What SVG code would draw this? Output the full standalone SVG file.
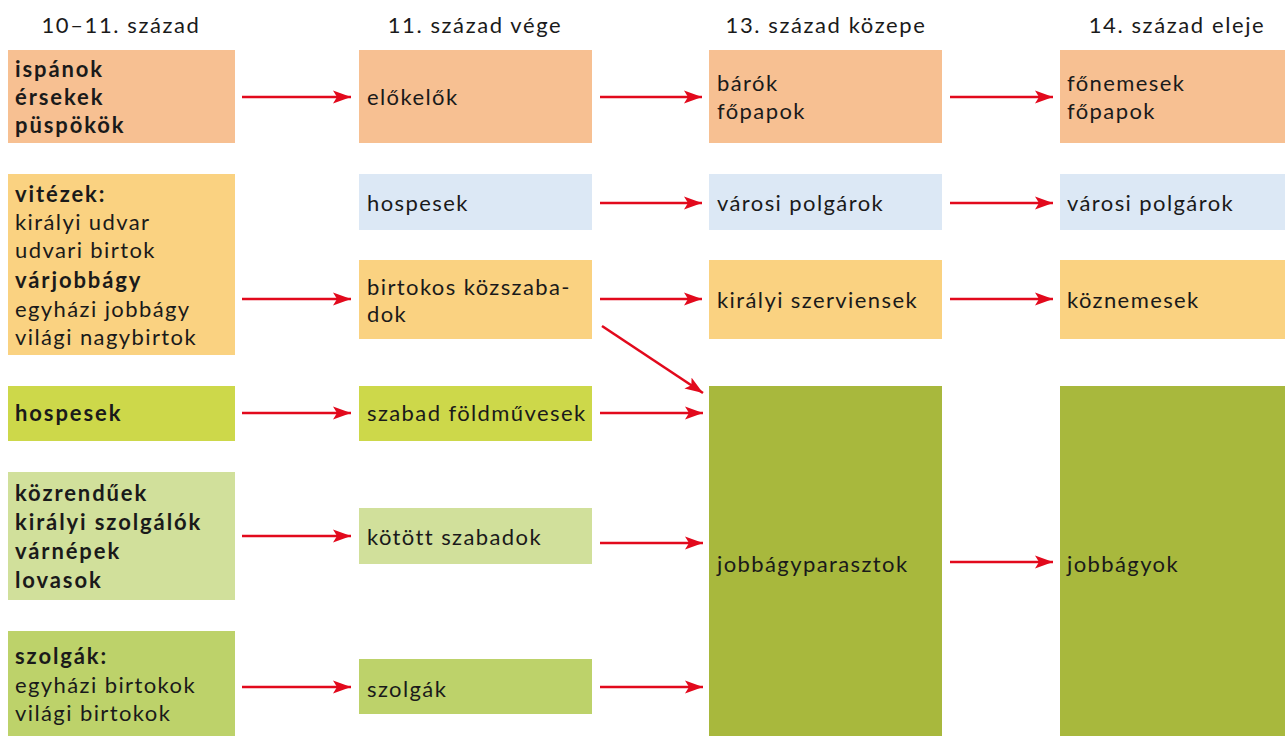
<svg xmlns="http://www.w3.org/2000/svg" width="1285" height="736" viewBox="0 0 1285 736">
<style>
text{font-family:"Lato","Liberation Sans",sans-serif;font-size:22px;fill:#1a1a1a;letter-spacing:1.4px}
.b{font-weight:700;letter-spacing:1.9px}
.h{text-anchor:middle;letter-spacing:1.6px}
.salmon{fill:#F7C092}.yellow{fill:#FAD281}.blue{fill:#DCE8F5}.lime{fill:#CDD84A}.lgreen{fill:#D1E09B}.green{fill:#BDD26A}.olive{fill:#A8B83D}
.arr{stroke:#E2091C;stroke-width:2.6;fill:none;marker-end:url(#ah)}
</style>
<defs>
<marker id="ah" markerUnits="userSpaceOnUse" markerWidth="20" markerHeight="14" refX="18" refY="7" orient="auto">
<path d="M0,0.5 L18,7 L0,13.5 L4,7 Z" fill="#E2091C"/>
</marker>
</defs>
<rect width="1285" height="736" fill="#fff"/>
<g id="headers">
<text class="h" x="121" y="33">10–11. század</text>
<text class="h" x="475" y="33">11. század vége</text>
<text class="h" x="826" y="33">13. század közepe</text>
<text class="h" x="1177" y="33">14. század eleje</text>
</g>
<g id="n-ispanok"><rect class="salmon" x="8" y="50" width="227" height="93"/>
<text class="b" x="15" y="77">ispánok</text><text class="b" x="15" y="105">érsekek</text><text class="b" x="15" y="133">püspökök</text></g>
<g id="n-vitezek"><rect class="yellow" x="8" y="174" width="227" height="181"/>
<text class="b" x="15" y="202">vitézek:</text><text x="15" y="230">királyi udvar</text><text x="15" y="258">udvari birtok</text>
<text class="b" x="15" y="288">várjobbágy</text><text x="15" y="317">egyházi jobbágy</text><text x="15" y="345">világi nagybirtok</text></g>
<g id="n-hospesek1"><rect class="lime" x="8" y="386" width="227" height="55"/>
<text class="b" x="15" y="421">hospesek</text></g>
<g id="n-kozrenduek"><rect class="lgreen" x="8" y="472" width="227" height="128"/>
<text class="b" x="15" y="501">közrendűek</text><text class="b" x="15" y="530">királyi szolgálók</text><text class="b" x="15" y="559">várnépek</text><text class="b" x="15" y="588">lovasok</text></g>
<g id="n-szolgak1"><rect class="green" x="8" y="631" width="227" height="105"/>
<text class="b" x="15" y="664">szolgák:</text><text x="15" y="693">egyházi birtokok</text><text x="15" y="721">világi birtokok</text></g>

<g id="n-elokelok"><rect class="salmon" x="359" y="50" width="233" height="93"/>
<text x="367" y="105">előkelők</text></g>
<g id="n-hospesek2"><rect class="blue" x="359" y="174" width="233" height="56"/>
<text x="367" y="211">hospesek</text></g>
<g id="n-birtokos"><rect class="yellow" x="359" y="260" width="233" height="79"/>
<text x="367" y="295">birtokos közszaba-</text><text x="367" y="322">dok</text></g>
<g id="n-szabad"><rect class="lime" x="359" y="386" width="233" height="55"/>
<text x="367" y="421">szabad földművesek</text></g>
<g id="n-kotott"><rect class="lgreen" x="359" y="508" width="233" height="56"/>
<text x="367" y="545">kötött szabadok</text></g>
<g id="n-szolgak2"><rect class="green" x="359" y="659" width="233" height="55"/>
<text x="367" y="697">szolgák</text></g>

<g id="n-barok"><rect class="salmon" x="709" y="50" width="233" height="93"/>
<text x="717" y="91">bárók</text><text x="717" y="119">főpapok</text></g>
<g id="n-varosi1"><rect class="blue" x="709" y="174" width="233" height="56"/>
<text x="717" y="211">városi polgárok</text></g>
<g id="n-szerviensek"><rect class="yellow" x="709" y="260" width="233" height="79"/>
<text x="717" y="308">királyi szerviensek</text></g>
<g id="n-jobbagyparasztok"><rect class="olive" x="709" y="386" width="233" height="350"/>
<text x="717" y="572">jobbágyparasztok</text></g>

<g id="n-fonemesek"><rect class="salmon" x="1060" y="50" width="225" height="93"/>
<text x="1067" y="91">főnemesek</text><text x="1067" y="119">főpapok</text></g>
<g id="n-varosi2"><rect class="blue" x="1060" y="174" width="225" height="56"/>
<text x="1067" y="211">városi polgárok</text></g>
<g id="n-koznemesek"><rect class="yellow" x="1060" y="260" width="225" height="79"/>
<text x="1067" y="308">köznemesek</text></g>
<g id="n-jobbagyok"><rect class="olive" x="1060" y="386" width="225" height="350"/>
<text x="1067" y="572">jobbágyok</text></g>

<g id="connectors">
<line class="arr" x1="242" y1="97" x2="351" y2="97"/>
<line class="arr" x1="600" y1="97" x2="702" y2="97"/>
<line class="arr" x1="950" y1="97" x2="1053" y2="97"/>
<line class="arr" x1="600" y1="203" x2="702" y2="203"/>
<line class="arr" x1="950" y1="203" x2="1053" y2="203"/>
<line class="arr" x1="242" y1="299" x2="351" y2="299"/>
<line class="arr" x1="600" y1="299" x2="702" y2="299"/>
<line class="arr" x1="950" y1="299" x2="1053" y2="299"/>
<line class="arr" x1="602" y1="326" x2="703" y2="393"/>
<line class="arr" x1="242" y1="413" x2="351" y2="413"/>
<line class="arr" x1="600" y1="413" x2="703" y2="413"/>
<line class="arr" x1="242" y1="536" x2="351" y2="536"/>
<line class="arr" x1="600" y1="543" x2="703" y2="543"/>
<line class="arr" x1="242" y1="687" x2="351" y2="687"/>
<line class="arr" x1="600" y1="687" x2="703" y2="687"/>
<line class="arr" x1="950" y1="562" x2="1053" y2="562"/>
</g>
</svg>
